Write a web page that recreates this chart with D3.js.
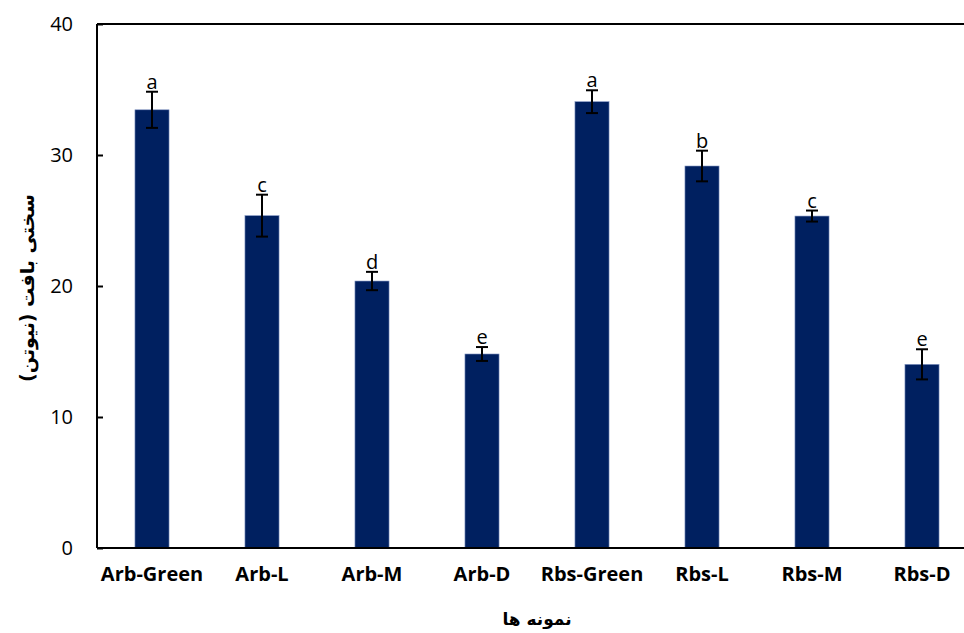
<!DOCTYPE html>
<html>
<head>
<meta charset="utf-8">
<script src="https://cdn.jsdelivr.net/npm/d3@7"></script>
<style>
  html, body { margin: 0; padding: 0; background: #ffffff; }
  svg { display: block; }
</style>
</head>
<body>
<svg id="chart" width="964" height="633"></svg>
<script>
// Texture hardness per sample, mean ± error, with significance letters
const categories = ["Arb-Green", "Arb-L", "Arb-M", "Arb-D", "Rbs-Green", "Rbs-L", "Rbs-M", "Rbs-D"];
const means      = [33.45, 25.37, 20.38, 14.81, 34.07, 29.16, 25.34, 14.02];
const errors     = [1.38, 1.6, 0.7, 0.53, 0.87, 1.17, 0.42, 1.15];
const letters    = ["a", "c", "d", "e", "a", "b", "c", "e"];
const yTicks     = [0, 10, 20, 30, 40];
const yTitle     = "سختی بافت (نیوتن)";
const xTitle     = "نمونه ها";

const svg = d3.select("#chart");
const plotL = 97, plotR = 977, plotT = 24, plotB = 548;

const x = d3.scaleBand().domain(categories).range([plotL, plotR]).paddingInner(0.69).paddingOuter(0.345);
const y = d3.scaleLinear().domain([0, 40]).range([plotB, plotT]);

// frame: top border
svg.append("line")
  .attr("x1", plotL).attr("x2", plotR).attr("y1", plotT).attr("y2", plotT)
  .attr("stroke", "#000").attr("stroke-width", 2);

// bars
svg.append("g").selectAll("rect").data(categories).join("rect")
  .attr("x", d => x(d))
  .attr("y", (d, i) => y(means[i]))
  .attr("width", x.bandwidth())
  .attr("height", (d, i) => plotB - y(means[i]))
  .attr("fill", "#002060")
  .attr("stroke", "#8497c4")
  .attr("stroke-width", 0.6);

// y axis with inward ticks
const yAxis = d3.axisLeft(y).tickValues(yTicks).tickSize(-6).tickPadding(24);
const gy = svg.append("g").attr("transform", `translate(${plotL},0)`).call(yAxis);
gy.select(".domain").attr("stroke-width", 2).attr("d", `M0,${plotB}V${plotT}`);
gy.selectAll(".tick line").attr("stroke-width", 2);
gy.selectAll(".tick text")
  .attr("font-family", "'Open Sans', sans-serif").attr("font-size", 20).attr("fill", "#000");

// x axis, no ticks
const xAxis = d3.axisBottom(x).tickSize(0).tickPadding(19);
const gx = svg.append("g").attr("transform", `translate(0,${plotB})`).call(xAxis);
gx.select(".domain").attr("stroke-width", 2).attr("d", `M${plotL},0H${plotR}`);
gx.selectAll(".tick text")
  .attr("font-family", "'Open Sans', sans-serif").attr("font-weight", "bold")
  .attr("font-size", 20).attr("fill", "#000").attr("dy", "0.71em");

// error bars
const cap = 6;
const eb = svg.append("g").attr("stroke", "#000").attr("stroke-width", 2);
categories.forEach((c, i) => {
  const cx = x(c) + x.bandwidth() / 2;
  const hi = y(means[i] + errors[i]), lo = y(means[i] - errors[i]);
  eb.append("line").attr("x1", cx).attr("x2", cx).attr("y1", hi).attr("y2", lo);
  eb.append("line").attr("x1", cx - cap).attr("x2", cx + cap).attr("y1", hi).attr("y2", hi);
  eb.append("line").attr("x1", cx - cap).attr("x2", cx + cap).attr("y1", lo).attr("y2", lo);
});

// significance letters
svg.append("g").selectAll("text").data(categories).join("text")
  .attr("x", d => x(d) + x.bandwidth() / 2)
  .attr("y", (d, i) => y(means[i] + errors[i]) - 3)
  .attr("text-anchor", "middle")
  .attr("font-family", "'Open Sans', sans-serif")
  .attr("font-size", 20)
  .attr("fill", "#000")
  .text((d, i) => letters[i]);

// axis titles
svg.append("text")
  .attr("transform", "translate(28,288) rotate(-90)")
  .attr("text-anchor", "middle").attr("dominant-baseline", "middle")
  .attr("direction", "rtl")
  .attr("font-family", "'DejaVu Sans', sans-serif").attr("font-weight", "bold").attr("font-size", 19)
  .text(yTitle);

svg.append("text")
  .attr("x", 537).attr("y", 620)
  .attr("text-anchor", "middle").attr("dominant-baseline", "middle")
  .attr("direction", "rtl")
  .attr("font-family", "'DejaVu Sans', sans-serif").attr("font-weight", "bold").attr("font-size", 17)
  .text(xTitle);
</script>
</body>
</html>
